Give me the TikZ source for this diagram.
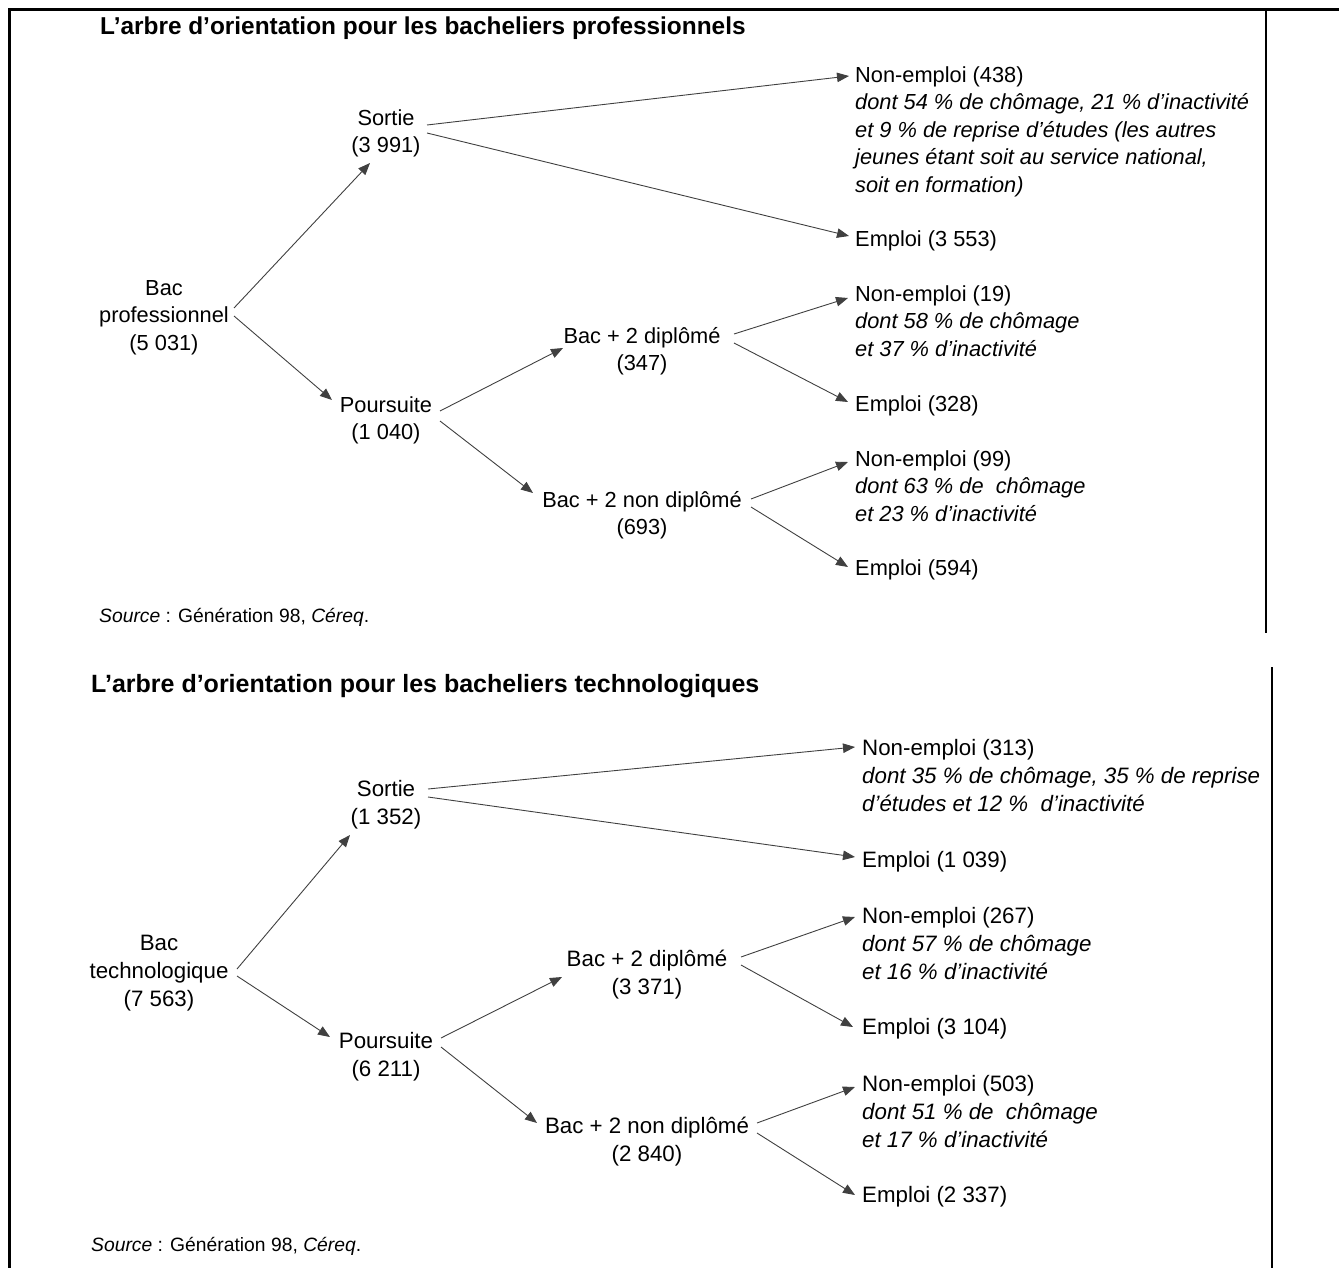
\documentclass[tikz,border=0pt]{standalone}
\usepackage{fontspec}
\setmainfont{Liberation Sans}
\usetikzlibrary{arrows.meta}
\newcommand\tstr{\rule{0pt}{22pt}}
\begin{document}
\begin{tikzpicture}[x=1pt,y=-1pt,
  txt/.style={inner sep=0pt, font=\fontsize{21.8}{27.5}\selectfont},
  txtb/.style={inner sep=0pt, font=\fontsize{22.3}{28}\selectfont},
  ctr/.style={txt, anchor=north, align=center},
  lft/.style={txt, anchor=north west, align=left},
  ctrb/.style={txtb, anchor=north, align=center},
  lftb/.style={txtb, anchor=north west, align=left},
  ttl/.style={inner sep=0pt, anchor=north west, font=\fontsize{24.4}{28}\selectfont\bfseries},
  ttlb/.style={inner sep=0pt, anchor=north west, font=\fontsize{25}{28}\selectfont\bfseries},
  srcnote/.style={inner sep=0pt, anchor=north west, font=\fontsize{19.3}{24}\selectfont},
  arr/.style={draw=black!75, line width=0.9pt, -{Triangle[length=12pt,width=9.5pt]}},
  frameline/.style={line width=3pt, line cap=rect}
]
\useasboundingbox (0,0) rectangle (1339,1268);
% frame lines
\draw[frameline] (9.5,9.5) -- (1339,9.5);
\draw[frameline] (9.5,9.5) -- (9.5,1268);
\draw[line width=2pt] (1266,9.5) -- (1266,633);
\draw[line width=2.5pt] (1272,667) -- (1272,1268);

% ---------- top tree ----------
\node[ttl] (title1) at (100,12) {\tstr L’arbre d’orientation pour les bacheliers professionnels};
\node[ctr] (bp) at (164,273) {\tstr Bac\\professionnel\\(5 031)};
\node[ctr] (so1) at (386,103) {\tstr Sortie\\(3 991)};
\node[ctr] (po1) at (386,390) {\tstr Poursuite\\(1 040)};
\node[ctr] (bd1) at (642,321) {\tstr Bac + 2 diplômé\\(347)};
\node[ctr] (bn1) at (642,485) {\tstr Bac + 2 non diplômé\\(693)};
\node[lft] (ne1) at (855,60) {\tstr Non-emploi (438)\\\textit{dont 54 \% de chômage, 21 \% d’inactivité}\\\textit{et 9 \% de reprise d’études (les autres}\\\textit{jeunes étant soit au service national,}\\\textit{soit en formation)}};
\node[lft] (em1) at (855,224) {\tstr Emploi (3 553)};
\node[lft] (ne2) at (855,279) {\tstr Non-emploi (19)\\\textit{dont 58 \% de chômage}\\\textit{et 37 \% d’inactivité}};
\node[lft] (em2) at (855,389) {\tstr Emploi (328)};
\node[lft] (ne3) at (855,444) {\tstr Non-emploi (99)\\\textit{dont 63 \% de~~chômage}\\\textit{et 23 \% d’inactivité}};
\node[lft] (em3) at (855,553) {\tstr Emploi (594)};
\node[srcnote] (src1) at (99,600) {\tstr\textit{Source} : Génération 98, \textit{Céreq}.};

\draw[arr] ([shift={(70,35)}]bp.north) -- ([shift={(-16,60)}]so1.north);
\draw[arr] ([shift={(70,43)}]bp.north) -- ([shift={(-54,10)}]po1.north);
\draw[arr] ([shift={(41,22)}]so1.north) -- ([shift={(-6,16)}]ne1.north west);
\draw[arr] ([shift={(41,30)}]so1.north) -- ([shift={(-6,12)}]em1.north west);
\draw[arr] ([shift={(54,21)}]po1.north) -- ([shift={(-79,27)}]bd1.north);
\draw[arr] ([shift={(54,31)}]po1.north) -- ([shift={(-109,8)}]bn1.north);
\draw[arr] ([shift={(92,13)}]bd1.north) -- ([shift={(-7,19)}]ne2.north west);
\draw[arr] ([shift={(92,22)}]bd1.north) -- ([shift={(-7,13)}]em2.north west);
\draw[arr] ([shift={(109,14)}]bn1.north) -- ([shift={(-7,18)}]ne3.north west);
\draw[arr] ([shift={(109,22)}]bn1.north) -- ([shift={(-7,14)}]em3.north west);

% ---------- bottom tree ----------
\node[ttlb] (title2) at (91,670) {\tstr L’arbre d’orientation pour les bacheliers technologiques};
\node[ctrb] (bt) at (159,928) {\tstr Bac\\technologique\\(7 563)};
\node[ctrb] (so2) at (386,774) {\tstr Sortie\\(1 352)};
\node[ctrb] (po2) at (386,1026) {\tstr Poursuite\\(6 211)};
\node[ctrb] (bd2) at (647,944) {\tstr Bac + 2 diplômé\\(3 371)};
\node[ctrb] (bn2) at (647,1111) {\tstr Bac + 2 non diplômé\\(2 840)};
\node[lftb] (ne4) at (862,733) {\tstr Non-emploi (313)\\\textit{dont 35 \% de chômage, 35 \% de reprise}\\\textit{d’études et 12 \%~~d’inactivité}};
\node[lftb] (em4) at (862,845) {\tstr Emploi (1 039)};
\node[lftb] (ne5) at (862,901) {\tstr Non-emploi (267)\\\textit{dont 57 \% de chômage}\\\textit{et 16 \% d’inactivité}};
\node[lftb] (em5) at (862,1012) {\tstr Emploi (3 104)};
\node[lftb] (ne6) at (862,1069) {\tstr Non-emploi (503)\\\textit{dont 51 \% de~~chômage}\\\textit{et 17 \% d’inactivité}};
\node[lftb] (em6) at (862,1180) {\tstr Emploi (2 337)};
\node[srcnote] (src2) at (91,1229) {\tstr\textit{Source} : Génération 98, \textit{Céreq}.};

\draw[arr] ([shift={(78,41)}]bt.north) -- ([shift={(-36,61)}]so2.north);
\draw[arr] ([shift={(78,48)}]bt.north) -- ([shift={(-56,11)}]po2.north);
\draw[arr] ([shift={(42,15)}]so2.north) -- ([shift={(-7,14)}]ne4.north west);
\draw[arr] ([shift={(42,23)}]so2.north) -- ([shift={(-7,12)}]em4.north west);
\draw[arr] ([shift={(55,12)}]po2.north) -- ([shift={(-85,33)}]bd2.north);
\draw[arr] ([shift={(55,21)}]po2.north) -- ([shift={(-110,12)}]bn2.north);
\draw[arr] ([shift={(94,13)}]bd2.north) -- ([shift={(-7,16)}]ne5.north west);
\draw[arr] ([shift={(94,21)}]bd2.north) -- ([shift={(-9,15)}]em5.north west);
\draw[arr] ([shift={(110,12)}]bn2.north) -- ([shift={(-7,18)}]ne6.north west);
\draw[arr] ([shift={(110,22)}]bn2.north) -- ([shift={(-7,15)}]em6.north west);
\end{tikzpicture}
\end{document}
